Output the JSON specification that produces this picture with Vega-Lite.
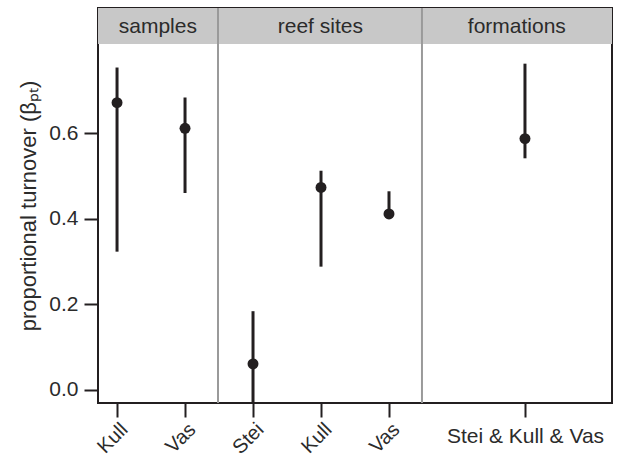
{
  "$schema": "https://vega.github.io/schema/vega-lite/v6.json",
  "autosize": "none",
  "width": 514,
  "height": 395,
  "padding": {"left": 98, "top": 8, "right": 5, "bottom": 57},
  "background": "white",
  "config": {
    "view": {"stroke": "#231f20", "strokeWidth": 2},
    "font": "Liberation Sans",
    "axis": {"labelFont": "Liberation Sans", "titleFont": "Liberation Sans", "labelColor": "#2b2b2b", "titleColor": "#2b2b2b", "tickColor": "#231f20", "domain": false, "grid": false}
  },
  "datasets": {
    "est": [
      {"panel": "samples", "site": "Kull", "pos": 1, "beta": 0.671, "lo": 0.323, "hi": 0.753},
      {"panel": "samples", "site": "Vas", "pos": 2, "beta": 0.611, "lo": 0.46, "hi": 0.683},
      {"panel": "reef sites", "site": "Stei", "pos": 3, "beta": 0.061, "lo": -0.06, "hi": 0.184},
      {"panel": "reef sites", "site": "Kull", "pos": 4, "beta": 0.473, "lo": 0.288, "hi": 0.512},
      {"panel": "reef sites", "site": "Vas", "pos": 5, "beta": 0.411, "lo": 0.401, "hi": 0.464},
      {"panel": "formations", "site": "Stei & Kull & Vas", "pos": 7, "beta": 0.587, "lo": 0.541, "hi": 0.762}
    ],
    "panels": [
      {"panel": "samples", "mid": 1.6},
      {"panel": "reef sites", "mid": 3.99},
      {"panel": "formations", "mid": 6.88}
    ],
    "seps": [{"at": 2.485}, {"at": 5.485}]
  },
  "resolve": {"axis": {"x": "independent"}},
  "layer": [
    {
      "data": {"values": [{"strip": "header"}]},
      "mark": {"type": "rect", "fill": "#c8c8c8"},
      "encoding": {
        "x": {"datum": 0.72, "type": "quantitative", "scale": {"domain": [0.72, 8.28], "nice": false, "zero": false}, "axis": null},
        "x2": {"datum": 8.28},
        "y": {"datum": 0.808, "type": "quantitative", "scale": {"domain": [-0.0304, 0.892], "nice": false, "zero": false}},
        "y2": {"datum": 0.892}
      }
    },
    {
      "data": {"name": "seps"},
      "mark": {"type": "rule", "color": "#9a9a9a", "strokeWidth": 2},
      "encoding": {
        "x": {"field": "at", "type": "quantitative", "axis": null},
        "y": {"datum": -0.0304, "type": "quantitative"},
        "y2": {"datum": 0.892}
      }
    },
    {
      "data": {"name": "panels"},
      "mark": {"type": "text", "fontSize": 21, "color": "#2b2b2b", "font": "Liberation Sans", "dy": 1},
      "encoding": {
        "x": {"field": "mid", "type": "quantitative", "axis": null},
        "y": {"datum": 0.85, "type": "quantitative"},
        "text": {"field": "panel"}
      }
    },
    {
      "data": {"name": "est"},
      "mark": {"type": "rule", "color": "#231f20", "strokeWidth": 3, "clip": true},
      "encoding": {
        "x": {"field": "pos", "type": "quantitative", "axis": {"orient": "bottom", "values": [1, 2, 3, 4, 5], "labelExpr": "['','Kull','Vas','Stei','Kull','Vas'][datum.value]", "labelAngle": -45, "labelAlign": "right", "labelBaseline": "top", "labelFontSize": 20, "tickSize": 14, "tickWidth": 2, "labelPadding": 2, "title": null}},
        "y": {"field": "lo", "type": "quantitative", "axis": {"values": [0, 0.2, 0.4, 0.6], "format": ".1f", "labelFontSize": 21, "tickSize": 14, "tickWidth": 2, "labelPadding": 6, "title": "proportional turnover (βₚₜ)", "titleFontSize": 22, "titleFontWeight": "normal", "titlePadding": 8}},
        "y2": {"field": "hi"}
      }
    },
    {
      "data": {"name": "est"},
      "mark": {"type": "point", "filled": true, "color": "#231f20", "opacity": 1, "size": 120},
      "encoding": {
        "x": {"field": "pos", "type": "quantitative", "axis": {"orient": "bottom", "values": [7], "labelExpr": "'Stei & Kull & Vas'", "labelAngle": 0, "labelFontSize": 21, "tickSize": 14, "tickWidth": 2, "labelPadding": 8, "title": null}},
        "y": {"field": "beta", "type": "quantitative"}
      }
    }
  ]
}
